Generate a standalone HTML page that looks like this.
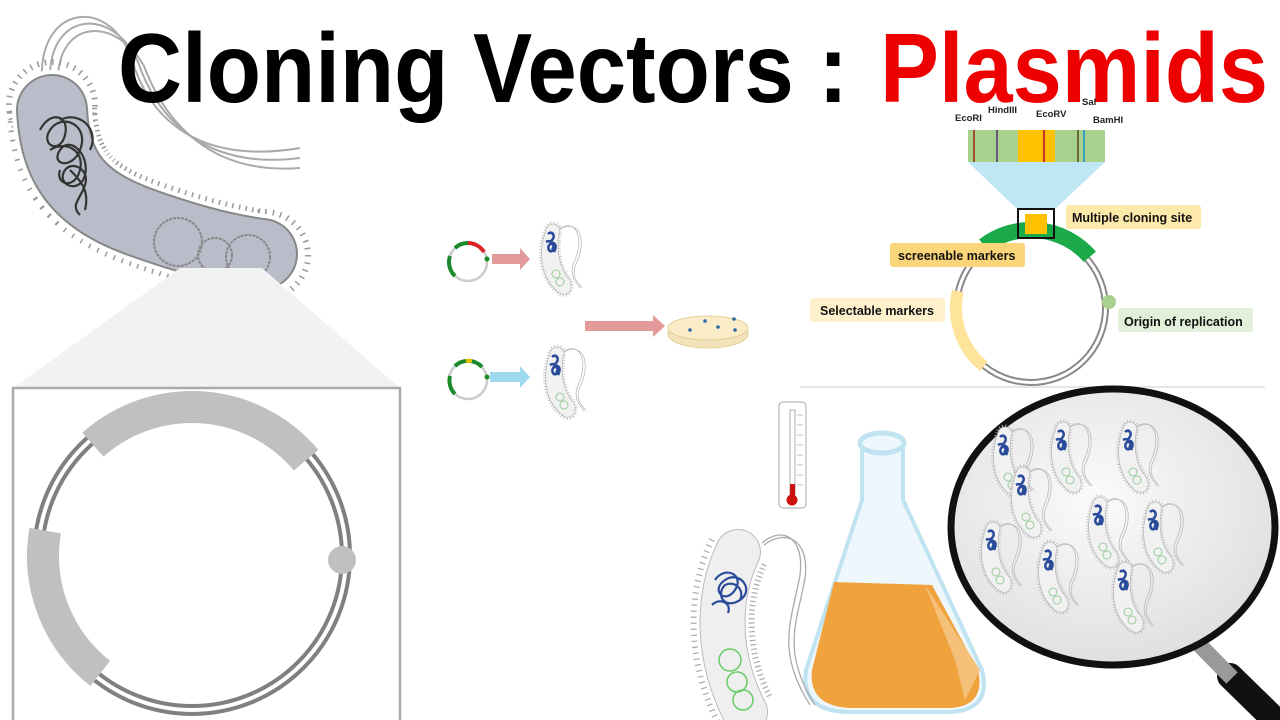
<!DOCTYPE html>
<html><head><meta charset="utf-8"><style>
html,body{margin:0;padding:0;background:#fff;width:1280px;height:720px;overflow:hidden}
svg{display:block}
text{font-family:"Liberation Sans",sans-serif;font-weight:bold}
</style></head><body>
<svg width="1280" height="720" viewBox="0 0 1280 720" xmlns="http://www.w3.org/2000/svg">
<defs>
<g id="sb">
 <path d="M8,8 C0,30 2,55 20,70 C28,76 36,70 32,58 C20,45 18,25 22,8 C20,0 10,0 8,8Z" fill="none" stroke="#bbb" stroke-width="5" stroke-dasharray="0.8 2"/>
 <path d="M8,8 C0,30 2,55 20,70 C28,76 36,70 32,58 C20,45 18,25 22,8 C20,0 10,0 8,8Z" fill="#f1f1f1" stroke="#bbb" stroke-width="0.8"/>
 <path d="M10,12 c4,-4 8,2 4,6 c-4,4 6,6 2,10 c-4,4 -8,-2 -4,-6 c3,-3 8,0 4,8 M8,20 c5,-3 10,3 6,8" fill="none" stroke="#2a4a9a" stroke-width="2.6"/>
 <circle cx="18" cy="52" r="4" fill="none" stroke="#9c9" stroke-width="1"/>
 <circle cx="22" cy="60" r="4" fill="none" stroke="#9c9" stroke-width="1"/>
 <path d="M22,6 C40,-4 46,20 36,40 C30,55 40,62 42,66" fill="none" stroke="#bbb" stroke-width="0.8"/>
 <path d="M24,6 C44,-2 48,22 38,42 C32,56 42,62 44,66" fill="none" stroke="#bbb" stroke-width="0.8"/>
</g>
<radialGradient id="lens" cx="0.45" cy="0.4" r="0.6"><stop offset="0" stop-color="#fbfbfb"/><stop offset="1" stop-color="#e0e0e0"/></radialGradient>
</defs>

<!-- Left bacterium flagella -->
<path d="M42,80 C38,5 110,-5 132,60 C150,120 200,165 300,148" fill="none" stroke="#aaa" stroke-width="2"/>
<path d="M50,80 C48,12 112,5 138,62 C158,120 205,170 300,158" fill="none" stroke="#aaa" stroke-width="2"/>
<path d="M58,80 C58,20 115,15 144,66 C165,122 210,175 300,168" fill="none" stroke="#aaa" stroke-width="2"/>
<!-- body -->
<path d="M52,110 C55,170 80,200 140,222 C190,240 230,250 262,254" fill="none" stroke="#999" stroke-width="90" stroke-dasharray="1.5 6"/>
<circle cx="52" cy="105" r="43" fill="none" stroke="#999" stroke-width="6" stroke-dasharray="1.5 6"/>
<circle cx="265" cy="255" r="43" fill="none" stroke="#999" stroke-width="6" stroke-dasharray="1.5 6"/>
<path d="M52,110 C55,170 80,200 140,222 C190,240 230,250 262,254" fill="none" stroke="#fff" stroke-width="80" stroke-linecap="round"/>
<path d="M52,110 C55,170 80,200 140,222 C190,240 230,250 262,254" fill="none" stroke="#888" stroke-width="72" stroke-linecap="round"/>
<path d="M52,110 C55,170 80,200 140,222 C190,240 230,250 262,254" fill="none" stroke="#b9bdc9" stroke-width="68" stroke-linecap="round"/>
<path d="M40,130 c10,-20 30,-15 25,5 c-5,20 -25,10 -15,-5 c12,-18 40,-5 30,20 c-8,20 -30,15 -20,0 c10,-15 30,5 25,25 c-5,20 -30,10 -20,-5 c8,-10 25,0 20,15 c-5,15 -15,20 -5,30 M50,150 c15,-10 35,0 30,20 c-5,20 -25,15 -20,0 M60,120 c20,-10 40,10 30,30 M70,170 c10,10 20,20 15,40" fill="none" stroke="#333" stroke-width="2.2"/>
<circle cx="178" cy="242" r="24" fill="none" stroke="#888" stroke-width="2" stroke-dasharray="3 1"/>
<circle cx="215" cy="255" r="17" fill="none" stroke="#888" stroke-width="2" stroke-dasharray="3 1"/>
<circle cx="248" cy="257" r="22" fill="none" stroke="#888" stroke-width="2" stroke-dasharray="3 1"/>

<!-- zoom trapezoid and box -->
<polygon points="180,268 262,268 400,388 13,388" fill="#f2f2f2"/>
<rect x="13" y="388" width="387" height="340" fill="#fff" stroke="#aaa" stroke-width="2.5"/>
<circle cx="192" cy="556" r="158" fill="none" stroke="#808080" stroke-width="4"/>
<circle cx="192" cy="556" r="150" fill="none" stroke="#808080" stroke-width="4"/>
<path d="M92.9,444.7 A149,149 0 0 1 306.1,460.2" fill="none" stroke="#c0c0c0" stroke-width="32"/>
<path d="M45.2,530.6 A149,149 0 0 0 100.3,673.4" fill="none" stroke="#c0c0c0" stroke-width="32"/>
<circle cx="342" cy="560" r="14" fill="#c0c0c0"/>

<!-- Title -->
<text x="118" y="102" font-size="98" textLength="730" lengthAdjust="spacingAndGlyphs" fill="#000">Cloning Vectors :</text>
<text x="880" y="102" font-size="98" textLength="388" lengthAdjust="spacingAndGlyphs" fill="#ee0000">Plasmids</text>

<!-- middle -->
<circle cx="468" cy="262" r="19" fill="none" stroke="#ccc" stroke-width="2.5"/>
<path d="M455,248 A19,19 0 0 1 468,243" fill="none" stroke="#1a8a2a" stroke-width="4"/>
<path d="M468,243 A19,19 0 0 1 484,252" fill="none" stroke="#dd2222" stroke-width="4"/>
<path d="M450,256 A19,19 0 0 0 455,276" fill="none" stroke="#1a8a2a" stroke-width="4"/>
<circle cx="487" cy="259" r="2.5" fill="#1a8a2a"/>
<polygon points="492,254 520,254 520,248 530,259 520,270 520,264 492,264" fill="#e29a9a"/>
<use href="#sb" x="538" y="222"/>
<circle cx="468" cy="380" r="19" fill="none" stroke="#ccc" stroke-width="2.5"/>
<path d="M455,366 A19,19 0 0 1 482,367" fill="none" stroke="#1a8a2a" stroke-width="4"/>
<path d="M466,361 A19,19 0 0 1 472,361" fill="none" stroke="#e5c100" stroke-width="4"/>
<path d="M450,376 A19,19 0 0 0 455,394" fill="none" stroke="#1a8a2a" stroke-width="4"/>
<circle cx="487" cy="377" r="2.5" fill="#1a8a2a"/>
<polygon points="490,372 520,372 520,366 530,377 520,388 520,382 490,382" fill="#9fd9ef"/>
<use href="#sb" x="542" y="345"/>
<polygon points="585,321 653,321 653,315 665,326 653,337 653,331 585,331" fill="#e29a9a"/>
<ellipse cx="708" cy="334" rx="40" ry="14" fill="#f3e3bd" stroke="#e5cf99"/>
<ellipse cx="708" cy="328" rx="40" ry="12" fill="#faecc9" stroke="#e5cf99"/>
<g fill="#2a6aa0"><circle cx="705" cy="321" r="1.8"/><circle cx="718" cy="327" r="1.8"/><circle cx="690" cy="330" r="1.8"/><circle cx="734" cy="319" r="1.8"/><circle cx="735" cy="330" r="1.8"/></g>

<!-- top-right plasmid -->
<text x="955" y="121" font-size="9.5" fill="#222">EcoRI</text>
<text x="988" y="113" font-size="9.5" fill="#222">HindIII</text>
<text x="1036" y="117" font-size="9.5" fill="#222">EcoRV</text>
<text x="1082" y="105" font-size="9.5" fill="#222">Sal</text>
<text x="1093" y="123" font-size="9.5" fill="#222">BamHI</text>
<rect x="968" y="130" width="137" height="32" fill="#a9d18e"/>
<rect x="1018" y="130" width="37" height="32" fill="#ffc000"/>
<g stroke-width="2"><line x1="974" y1="130" x2="974" y2="162" stroke="#a0522d"/><line x1="997" y1="130" x2="997" y2="162" stroke="#6a5a7a"/><line x1="1044" y1="130" x2="1044" y2="162" stroke="#cc3333"/><line x1="1078" y1="130" x2="1078" y2="162" stroke="#6a6a3a"/><line x1="1084" y1="130" x2="1084" y2="162" stroke="#3aa0c0"/></g>
<polygon points="968,162 1105,162 1054,210 1018,210" fill="#bfe6f5"/>
<circle cx="1031" cy="308" r="77" fill="none" stroke="#888" stroke-width="2"/>
<circle cx="1031" cy="308" r="72" fill="none" stroke="#888" stroke-width="2"/>
<path d="M984,245.7 A78,78 0 0 1 1089.9,256.8" fill="none" stroke="#1aaa4a" stroke-width="16"/>
<path d="M957.9,291.1 A75,75 0 0 0 983.8,366.3" fill="none" stroke="#fde49a" stroke-width="12"/>
<circle cx="1109" cy="302" r="7" fill="#a9d18e"/>
<rect x="1025" y="214" width="22" height="20" fill="#ffc000"/>
<rect x="1018" y="209" width="36" height="29" fill="none" stroke="#111" stroke-width="2"/>
<rect x="1066" y="205" width="135" height="24" rx="3" fill="#fde9a9"/>
<text x="1072" y="222" font-size="12.5" fill="#111">Multiple cloning site</text>
<rect x="890" y="243" width="135" height="24" rx="3" fill="#fbd57a"/>
<text x="898" y="260" font-size="12.5" fill="#111">screenable markers</text>
<rect x="810" y="298" width="135" height="24" rx="3" fill="#fef1cc"/>
<text x="820" y="315" font-size="12.5" fill="#111">Selectable markers</text>
<rect x="1118" y="308" width="135" height="24" rx="3" fill="#e2efda"/>
<text x="1124" y="326" font-size="12.5" fill="#111">Origin of replication</text>
<line x1="800" y1="387" x2="1265" y2="387" stroke="#ddd" stroke-width="1.5"/>

<!-- thermometer -->
<rect x="779" y="402" width="27" height="106" rx="4" fill="#fff" stroke="#aaa"/>
<rect x="790" y="410" width="5" height="85" fill="#fff" stroke="#999" stroke-width="0.8"/>
<rect x="790" y="484" width="5" height="14" fill="#cc1111"/>
<circle cx="792" cy="500" r="5.5" fill="#cc1111"/>
<g stroke="#999" stroke-width="0.6"><line x1="797" y1="415" x2="803" y2="415"/><line x1="797" y1="425" x2="803" y2="425"/><line x1="797" y1="435" x2="803" y2="435"/><line x1="797" y1="445" x2="803" y2="445"/><line x1="797" y1="455" x2="803" y2="455"/><line x1="797" y1="465" x2="803" y2="465"/><line x1="797" y1="475" x2="803" y2="475"/><line x1="797" y1="485" x2="803" y2="485"/></g>

<!-- flask -->
<path d="M862,445 L862,500 L806,670 Q800,712 850,712 L950,712 Q992,710 982,670 L903,500 L903,445 Z" fill="#eef8fc" stroke="#bfe3f0" stroke-width="4"/>
<path d="M834,582 L932,585 L978,670 Q986,706 950,708 L850,708 Q808,706 812,670 Z" fill="#f0a23c"/>
<path d="M925,585 L955,660 L965,700 L980,670 Z" fill="#f5c07a"/>
<ellipse cx="882" cy="443" rx="22" ry="10" fill="#eef8fc" stroke="#bfe3f0" stroke-width="5"/>

<!-- bottom-left bacterium -->
<path d="M760,545 C780,525 805,535 800,575 C792,620 775,650 810,705" fill="none" stroke="#aaa" stroke-width="1.3"/>
<path d="M764,545 C786,528 810,540 805,578 C798,620 780,650 815,705" fill="none" stroke="#aaa" stroke-width="1.3"/>
<path d="M738,552 C715,600 718,660 745,712" fill="none" stroke="#aaa" stroke-width="64" stroke-dasharray="1.2 4"/>
<path d="M738,552 C715,600 718,660 745,712" fill="none" stroke="#fff" stroke-width="52" stroke-linecap="round"/>
<path d="M738,552 C715,600 718,660 745,712" fill="none" stroke="#bbb" stroke-width="46" stroke-linecap="round"/>
<path d="M738,552 C715,600 718,660 745,712" fill="none" stroke="#efefef" stroke-width="44" stroke-linecap="round"/>
<path d="M715,580 c10,-15 30,-5 20,10 c-10,15 -25,0 -10,-10 c15,-10 30,10 15,20 c-15,10 -25,-5 -15,-15 c10,-5 20,5 15,15 M712,605 c8,-8 20,-2 16,8" fill="none" stroke="#2a4a9a" stroke-width="2.2"/>
<circle cx="730" cy="660" r="11" fill="none" stroke="#6c6" stroke-width="1.5"/>
<circle cx="737" cy="682" r="10" fill="none" stroke="#6c6" stroke-width="1.5"/>
<circle cx="743" cy="700" r="10" fill="none" stroke="#6c6" stroke-width="1.5"/>

<!-- magnifier -->
<path d="M1230,676 L1275,720" stroke="#111" stroke-width="26" stroke-linecap="round"/>
<path d="M1175,620 L1232,678" stroke="#999" stroke-width="16"/>
<path d="M1172,616 L1186,631" stroke="#777" stroke-width="24"/>
<ellipse cx="1113" cy="527" rx="162" ry="138" fill="url(#lens)" stroke="#111" stroke-width="7"/>
<use href="#sb" x="990" y="425"/>
<use href="#sb" x="1048" y="420"/>
<use href="#sb" x="1115" y="420"/>
<use href="#sb" x="1008" y="465"/>
<use href="#sb" x="1140" y="500"/>
<use href="#sb" x="978" y="520"/>
<use href="#sb" x="1085" y="495"/>
<use href="#sb" x="1035" y="540"/>
<use href="#sb" x="1110" y="560"/>
</svg>
</body></html>
